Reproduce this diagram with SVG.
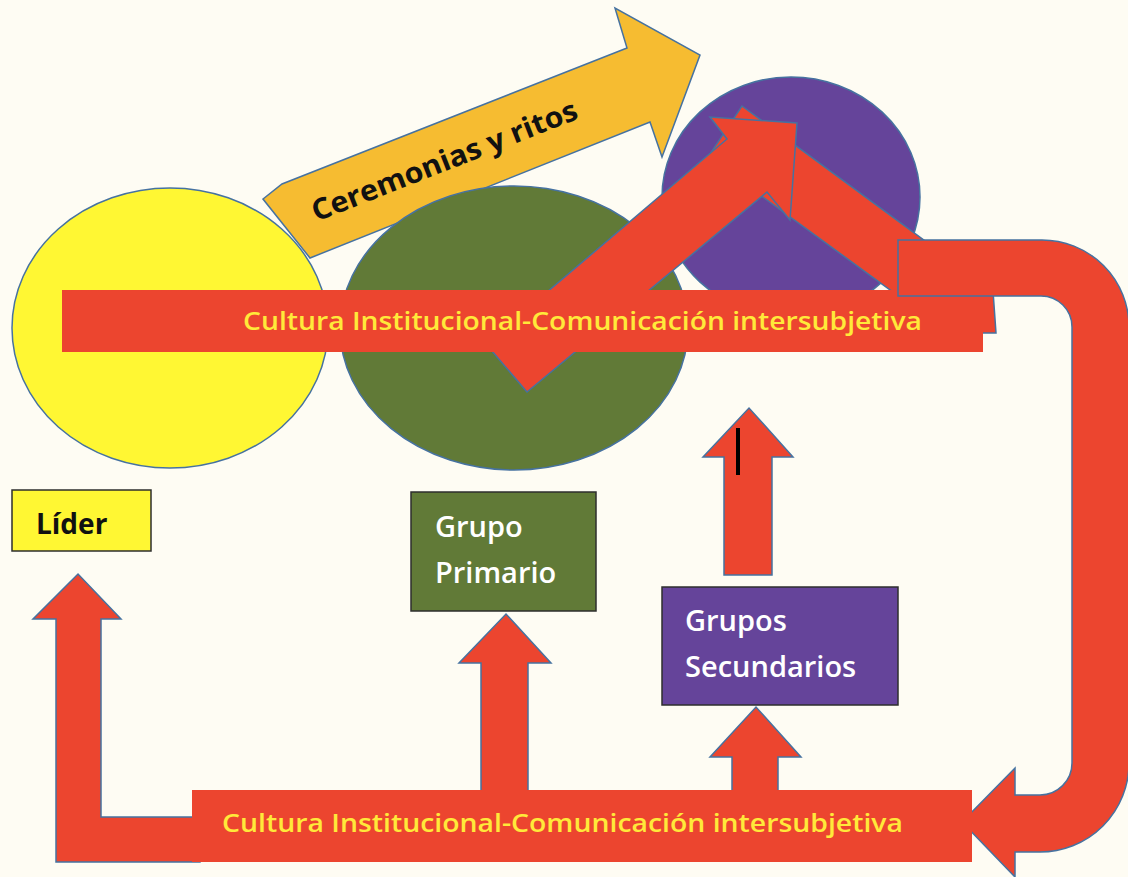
<svg xmlns="http://www.w3.org/2000/svg" width="1128" height="877" viewBox="0 0 1128 877">
<style>
.ol{stroke:#4672A0;stroke-width:1.5;stroke-linejoin:miter}
.red{fill:#EC452F}
.band{fill:#EC452F}
.ban{font-family:"Open Sans","Liberation Sans",sans-serif;font-weight:600;font-size:26px;fill:#FFE93A}
.box{stroke:#2E2E2E;stroke-width:1.5}
.wt{font-family:"Open Sans","Liberation Sans",sans-serif;font-weight:600;font-size:29px;fill:#FFFFFF}
.bk{font-family:"Open Sans","Liberation Sans",sans-serif;font-weight:700;fill:#111111}
</style>
<rect x="0" y="0" width="1128" height="877" fill="#FEFCF3"/>

<g id="circulo-lider">
<ellipse cx="170" cy="328" rx="158" ry="140" fill="#FFF733" class="ol"/>
</g>

<g id="ceremonias-y-ritos">
<polygon class="ol" fill="#F6BC31" points="263,199 282,184 627,48 615,8 700,55 662,157 650,122 310,258"/>
<text class="bk" font-size="29" x="448" y="170" text-anchor="middle" textLength="283" lengthAdjust="spacingAndGlyphs" transform="rotate(-21.5 448 170)">Ceremonias y ritos</text>
</g>

<g id="circulo-grupo-primario">
<ellipse cx="514" cy="328" rx="174" ry="142" fill="#617A37" class="ol"/>
</g>

<g id="circulo-grupos-secundarios">
<ellipse cx="791" cy="197" rx="129" ry="120" fill="#65449A" class="ol"/>
</g>

<g id="connectors">
<polygon class="band ol" points="742,106 993,291 996,333 949,333 708,157"/>
<polygon class="band ol" points="527,392 486,344 727,139 710,117 797,123 790,220 767,192"/>

<g id="banner-superior">
<rect x="62" y="290" width="921" height="62" class="red"/>
<text class="ban" x="582.5" y="330" text-anchor="middle" textLength="679" lengthAdjust="spacingAndGlyphs">Cultura Institucional-Comunicación intersubjetiva</text>
</g>

<path class="band ol" d="M898,240 H1042 A87,87 0 0 1 1129,327 V763 A89,89 0 0 1 1040,852 H1015 V877 L962,822 L1015,768 V795 H1040 A32,32 0 0 0 1072,763 V327 A31,31 0 0 0 1041,296 H898 Z"/>

<polygon class="band ol" points="724,575 724,457 703,457 749,408 793,457 772,457 772,575"/>
<rect x="736" y="428" width="4" height="47" fill="#000000"/>

<polygon class="band ol" points="56,862 56,619 33,619 78,574 121,619 101,619 101,817 200,817 200,862"/>
<polygon class="band ol" points="481,800 481,663 459,663 506,614 551,663 528,663 528,800"/>
<polygon class="band ol" points="732,800 732,757 710,757 756,707 801,757 778,757 778,800"/>

<g id="banner-inferior">
<rect x="192" y="790" width="780" height="72" class="red"/>
<text class="ban" x="562.5" y="832" text-anchor="middle" textLength="681" lengthAdjust="spacingAndGlyphs">Cultura Institucional-Comunicación intersubjetiva</text>
</g>
</g>

<g id="lider">
<rect x="12" y="490" width="139" height="61" fill="#FFF733" class="box"/>
<text class="bk" font-size="28" x="36" y="534">Líder</text>
</g>

<g id="grupo-primario">
<rect x="411" y="492" width="185" height="119" fill="#617A37" class="box"/>
<text class="wt" x="435" y="537">Grupo</text>
<text class="wt" x="435" y="583">Primario</text>
</g>

<g id="grupos-secundarios">
<rect x="662" y="587" width="236" height="118" fill="#65449A" class="box"/>
<text class="wt" x="685" y="631">Grupos</text>
<text class="wt" x="685" y="677">Secundarios</text>
</g>
</svg>
